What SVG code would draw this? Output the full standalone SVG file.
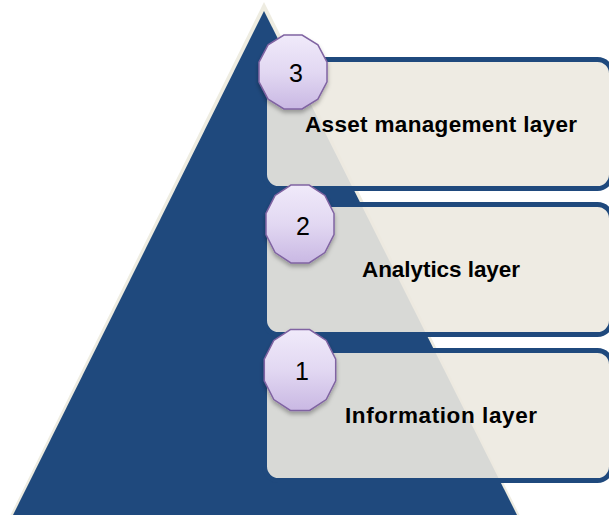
<svg xmlns="http://www.w3.org/2000/svg" width="609" height="515" viewBox="0 0 609 515">
  <style>
    .box { fill: #ECE9E0; fill-opacity: 0.9; stroke: #1F497D; stroke-width: 5; }
    .badge { fill: url(#badgeGrad); stroke: #8064A2; stroke-width: 1.5; filter: url(#shadow); }
    .num { font-family: "Liberation Sans", Arial, sans-serif; font-size: 25px; fill: #000; text-anchor: middle; }
    .label { font-family: "Liberation Sans", Arial, sans-serif; font-size: 22.5px; font-weight: bold; fill: #000; text-anchor: middle; }
  </style>
  <defs>
    <linearGradient id="badgeGrad" x1="0" y1="0" x2="0" y2="1">
      <stop offset="0" stop-color="#F0EAFA"/>
      <stop offset="0.5" stop-color="#E2D8F2"/>
      <stop offset="1" stop-color="#C9B8E3"/>
    </linearGradient>
    <filter id="shadow" x="-30%" y="-30%" width="160%" height="160%">
      <feDropShadow dx="0" dy="3" stdDeviation="2" flood-color="#000" flood-opacity="0.3"/>
    </filter>
  </defs>
  <rect width="609" height="515" fill="#FFFFFF"/>
  <g id="pyramid">
    <polygon points="264,2 8,520 522,520" fill="#EEECE1"/>
    <polygon points="264,11 13,515 517,515" fill="#1F497D"/>
  </g>
  <g id="connectors"></g>
  <g id="layer3">
    <rect class="box" x="264.5" y="59.5" width="347" height="129" rx="14"/>
    <text class="label" x="441" y="132" textLength="272" lengthAdjust="spacing">Asset management layer</text>
  </g>
  <g id="layer2">
    <rect class="box" x="264.5" y="204.5" width="347" height="130" rx="14"/>
    <text class="label" x="441" y="277" textLength="158" lengthAdjust="spacing">Analytics layer</text>
  </g>
  <g id="layer1">
    <rect class="box" x="264.5" y="350.5" width="347" height="130" rx="14"/>
    <text class="label" x="441" y="423" textLength="192" lengthAdjust="spacing">Information layer</text>
  </g>
  <g id="badge3">
    <polygon class="badge" points="327,62.1 317.9,44.9 302.1,35 283.9,35 268.1,44.9 259,62.1 259,81.9 268.1,99.1 283.9,109 302.1,109 317.9,99.1 327,81.9"/>
    <text class="num" x="296" y="82">3</text>
  </g>
  <g id="badge2">
    <polygon class="badge" points="334,213.5 324.9,195.4 309.1,185 290.9,185 275.1,195.4 266,213.5 266,234.5 275.1,252.6 290.9,263 309.1,263 324.9,252.6 334,234.5"/>
    <text class="num" x="303" y="235">2</text>
  </g>
  <g id="badge1">
    <polygon class="badge" points="335.7,359.2 326.2,340.4 309.6,329.6 290.4,329.6 273.8,340.4 264.3,359.2 264.3,380.8 273.8,399.6 290.4,410.4 309.6,410.4 326.2,399.6 335.7,380.8"/>
    <text class="num" x="302" y="380">1</text>
  </g>
</svg>
